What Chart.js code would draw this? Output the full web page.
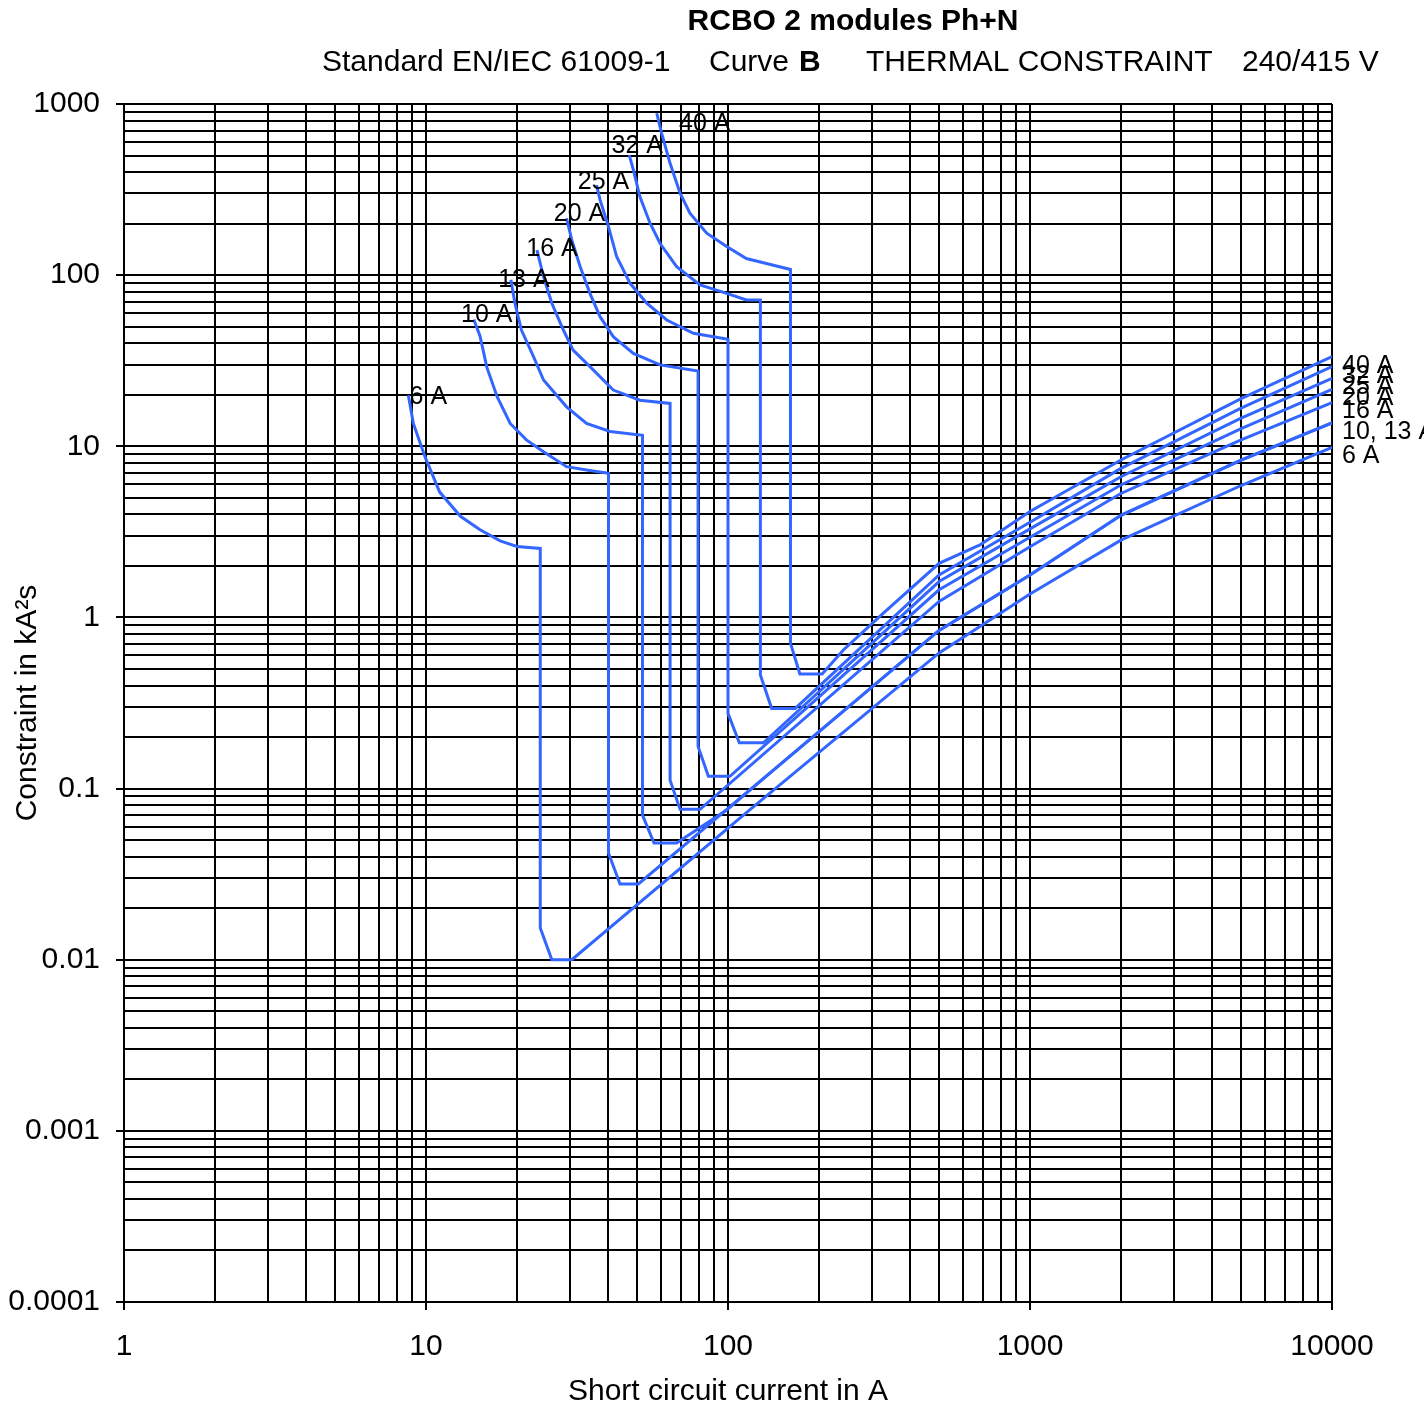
<!DOCTYPE html>
<html>
<head>
<meta charset="utf-8">
<script src="https://cdn.jsdelivr.net/npm/chart.js@4/dist/chart.umd.min.js"></script>
<style>
  html, body { margin: 0; padding: 0; background: #ffffff; }
  #wrap { width: 1424px; height: 1411px; position: relative; }
</style>
</head>
<body>
<div id="wrap"><canvas id="c" width="1424" height="1411"></canvas></div>
<script>
// ---------- DATA ----------
const seriesNames = ['6 A', '10 A', '13 A', '16 A', '20 A', '25 A', '32 A', '40 A'];
const endLabels   = ['6 A', '10, 13 A', '', '16 A', '20 A', '25 A', '32 A', '40 A'];

const tickValuesX = [1, 10, 100, 1000, 10000];
const tickLabelsX = ['1', '10', '100', '1000', '10000'];
const tickValuesY = [0.0001, 0.001, 0.01, 0.1, 1, 10, 100, 1000];
const tickLabelsY = ['0.0001', '0.001', '0.01', '0.1', '1', '10', '100', '1000'];

const current6A    = [8.74, 9.08, 9.92, 11.1, 13.0, 15.1, 17.6, 20.0, 23.9, 23.9, 26.1, 30.4, 118, 500, 1000, 2000, 5000, 10000];
const constraint6A = [19.9, 13.6, 8.7, 5.4, 3.9, 3.25, 2.8, 2.6, 2.53, 0.0153, 0.0100, 0.0100, 0.075, 0.62, 1.37, 2.83, 5.9, 9.86];

const current10A    = [14.4, 15.1, 15.9, 17.2, 19.0, 21.5, 24.5, 29.2, 34.0, 40.2, 40.2, 43.9, 50.5, 118, 500, 1000, 2000, 5000, 10000];
const constraint10A = [55, 44, 29, 19.5, 13.6, 10.9, 9.3, 7.6, 7.27, 6.95, 0.042, 0.0277, 0.0277, 0.098, 0.84, 1.77, 3.95, 8.3, 13.7];

const current13A    = [19.1, 19.7, 20.7, 22.7, 24.5, 29.2, 34.0, 40.7, 52.1, 52.1, 56.9, 67.6, 99, 118, 500, 1000, 2000, 5000, 10000];
const constraint13A = [94, 68.5, 47.8, 33.4, 24.4, 17.0, 13.6, 12.2, 11.6, 0.070, 0.048, 0.048, 0.075, 0.098, 0.84, 1.77, 3.95, 8.3, 13.7];

const current16A    = [23.3, 24.5, 26.1, 28.5, 30.7, 34.9, 41.7, 51.1, 64.3, 64.3, 69.4, 80.8, 500, 1000, 2000, 5000, 10000];
const constraint16A = [140, 98, 68.5, 47.8, 36.5, 29.2, 21.3, 18.6, 17.8, 0.112, 0.0756, 0.0756, 1.24, 2.59, 5.3, 10.9, 18.0];

const current20A    = [29.2, 30.4, 32.4, 34.9, 37.7, 41.7, 48.6, 59.6, 79.6, 79.6, 86.1, 101.5, 500, 1000, 2000, 5000, 10000];
const constraint20A = [215, 160, 112, 78.3, 57.2, 43.7, 34.9, 29.9, 27.5, 0.176, 0.118, 0.118, 1.45, 2.94, 5.94, 12.7, 21.5];

const current25A    = [36.7, 37.7, 40.2, 42.8, 47.4, 53.8, 62.7, 76.8, 100, 100, 109, 131, 500, 1000, 2000, 5000, 10000];
const constraint25A = [336, 275, 192, 128, 89.6, 68.5, 54.7, 45.7, 42.2, 0.275, 0.185, 0.185, 1.62, 3.29, 6.64, 14.6, 24.9];

const current32A    = [47.1, 48.6, 51.1, 55.2, 59.6, 67.6, 80.8, 99, 115, 128, 128, 139.5, 167, 500, 1000, 2000, 5000, 10000];
const constraint32A = [503, 412, 287, 201, 153, 112, 87.6, 78.3, 71.6, 71.6, 0.461, 0.294, 0.294, 1.77, 3.6, 7.43, 16.7, 29.2];

const current40A    = [58.1, 60.3, 64.3, 69.4, 74.8, 85, 99, 115, 134, 161, 161, 173, 205, 241, 327, 500, 683, 1000, 2000, 5000, 10000];
const constraint40A = [883, 674, 450, 301, 230, 176, 147, 125, 117, 108, 0.706, 0.467, 0.467, 0.645, 1.06, 2.07, 2.65, 4.16, 8.32, 19.0, 33.4];

// ---------- STYLE ----------
const FONT = "'Liberation Sans', Arial, sans-serif";
const LINE_COLOR = '#3366FF';
const startLabelOffsets = [[20, 2], [13, -4], [13, 0], [15, -1], [13, -4], [7, -3], [8, -9], [48, 11]];
const endLabelDx = 10, endLabelDy = 9;

const currents = [current6A, current10A, current13A, current16A, current20A, current25A, current32A, current40A];
const constraints = [constraint6A, constraint10A, constraint13A, constraint16A, constraint20A, constraint25A, constraint32A, constraint40A];

function isPow10(v) {
  const l = Math.log10(v);
  return Math.abs(l - Math.round(l)) < 1e-9;
}
function logTicks(min, max) {
  const out = [];
  const k0 = Math.round(Math.log10(min)), k1 = Math.round(Math.log10(max));
  for (let k = k0; k <= k1; k++) {
    for (let n = 1; n <= 9; n++) {
      const v = parseFloat((n * Math.pow(10, k)).toPrecision(12));
      if (v >= min * (1 - 1e-9) && v <= max * (1 + 1e-9)) out.push(v);
    }
  }
  return out;
}
function labelFor(values, labels, v) {
  const i = values.findIndex(t => Math.abs(t - v) / t < 1e-6);
  return i >= 0 ? labels[i] : '';
}

const datasets = seriesNames.map((name, s) => ({
  label: name,
  data: currents[s].map((x, i) => ({ x: x, y: constraints[s][i] })),
  showLine: true,
  borderColor: LINE_COLOR,
  backgroundColor: LINE_COLOR,
  borderWidth: 3,
  pointRadius: 0,
  tension: 0,
  fill: false
}));

const titlePlugin = {
  id: 'titles',
  afterDraw(chart) {
    const ctx = chart.ctx;
    ctx.save();
    ctx.fillStyle = '#000';
    ctx.textBaseline = 'middle';
    ctx.font = 'bold 30px ' + FONT;
    ctx.textAlign = 'center';
    ctx.fillText('RCBO 2 modules Ph+N', 853, 22);
    ctx.textAlign = 'left';
    ctx.font = '30px ' + FONT;
    ctx.fillText('Standard EN/IEC 61009-1', 322, 63);
    ctx.fillText('Curve', 709, 63);
    ctx.font = 'bold 30px ' + FONT;
    ctx.fillText('B', 799, 63);
    ctx.font = '30px ' + FONT;
    ctx.fillText('THERMAL CONSTRAINT', 866, 63);
    ctx.fillText('240/415 V', 1242, 63);
    ctx.restore();
  }
};

const seriesLabelPlugin = {
  id: 'seriesLabels',
  afterDatasetsDraw(chart) {
    const ctx = chart.ctx;
    const xs = chart.scales.x, ys = chart.scales.y;
    ctx.save();
    ctx.fillStyle = '#000';
    ctx.font = '25px ' + FONT;
    ctx.textBaseline = 'middle';
    seriesNames.forEach((name, s) => {
      const px = xs.getPixelForValue(currents[s][0]);
      const py = ys.getPixelForValue(constraints[s][0]);
      ctx.textAlign = 'center';
      ctx.fillText(name, px + startLabelOffsets[s][0], py + startLabelOffsets[s][1]);
      if (endLabels[s]) {
        const n = currents[s].length - 1;
        const ex = xs.getPixelForValue(currents[s][n]);
        const ey = ys.getPixelForValue(constraints[s][n]);
        ctx.textAlign = 'left';
        ctx.fillText(endLabels[s], ex + endLabelDx, ey + endLabelDy);
      }
    });
    ctx.restore();
  }
};

const gridCommon = {
  color: '#000',
  lineWidth: 2,
  drawTicks: true,
  tickLength: 8,
  tickWidth: 2,
  tickColor: (c) => (c.tick && isPow10(c.tick.value)) ? '#000' : 'rgba(0,0,0,0)'
};

new Chart(document.getElementById('c'), {
  type: 'scatter',
  data: { datasets },
  plugins: [titlePlugin, seriesLabelPlugin],
  options: {
    responsive: false,
    animation: false,
    layout: { padding: { top: 104, right: 92, left: 0, bottom: 0 } },
    plugins: { legend: { display: false }, tooltip: { enabled: false }, title: { display: false } },
    scales: {
      x: {
        type: 'logarithmic',
        position: 'bottom',
        min: 1, max: 10000,
        afterBuildTicks: (scale) => { scale.ticks = logTicks(1, 10000).map(v => ({ value: v })); },
        afterFit: (scale) => { scale.height = 109; },
        grid: gridCommon,
        border: { display: true, color: '#000', width: 2 },
        ticks: {
          autoSkip: false, maxRotation: 0, minRotation: 0, padding: 19,
          color: '#000', font: { family: FONT, size: 30 },
          callback: (v) => labelFor(tickValuesX, tickLabelsX, v)
        },
        title: {
          display: true, text: 'Short circuit current in A', color: '#000',
          font: { family: FONT, size: 30 }, padding: { top: 0, bottom: 1 }
        }
      },
      y: {
        type: 'logarithmic',
        position: 'left',
        min: 0.0001, max: 1000,
        afterBuildTicks: (scale) => { scale.ticks = logTicks(0.0001, 1000).map(v => ({ value: v })); },
        afterFit: (scale) => { scale.width = 124; },
        grid: gridCommon,
        border: { display: true, color: '#000', width: 2 },
        ticks: {
          autoSkip: false, padding: 16,
          color: '#000', font: { family: FONT, size: 30 },
          callback: (v) => labelFor(tickValuesY, tickLabelsY, v)
        },
        title: {
          display: true, text: 'Constraint in kA²s', color: '#000',
          font: { family: FONT, size: 30 }, padding: { top: 10, bottom: 0 }
        }
      }
    }
  }
});
</script>
</body>
</html>
